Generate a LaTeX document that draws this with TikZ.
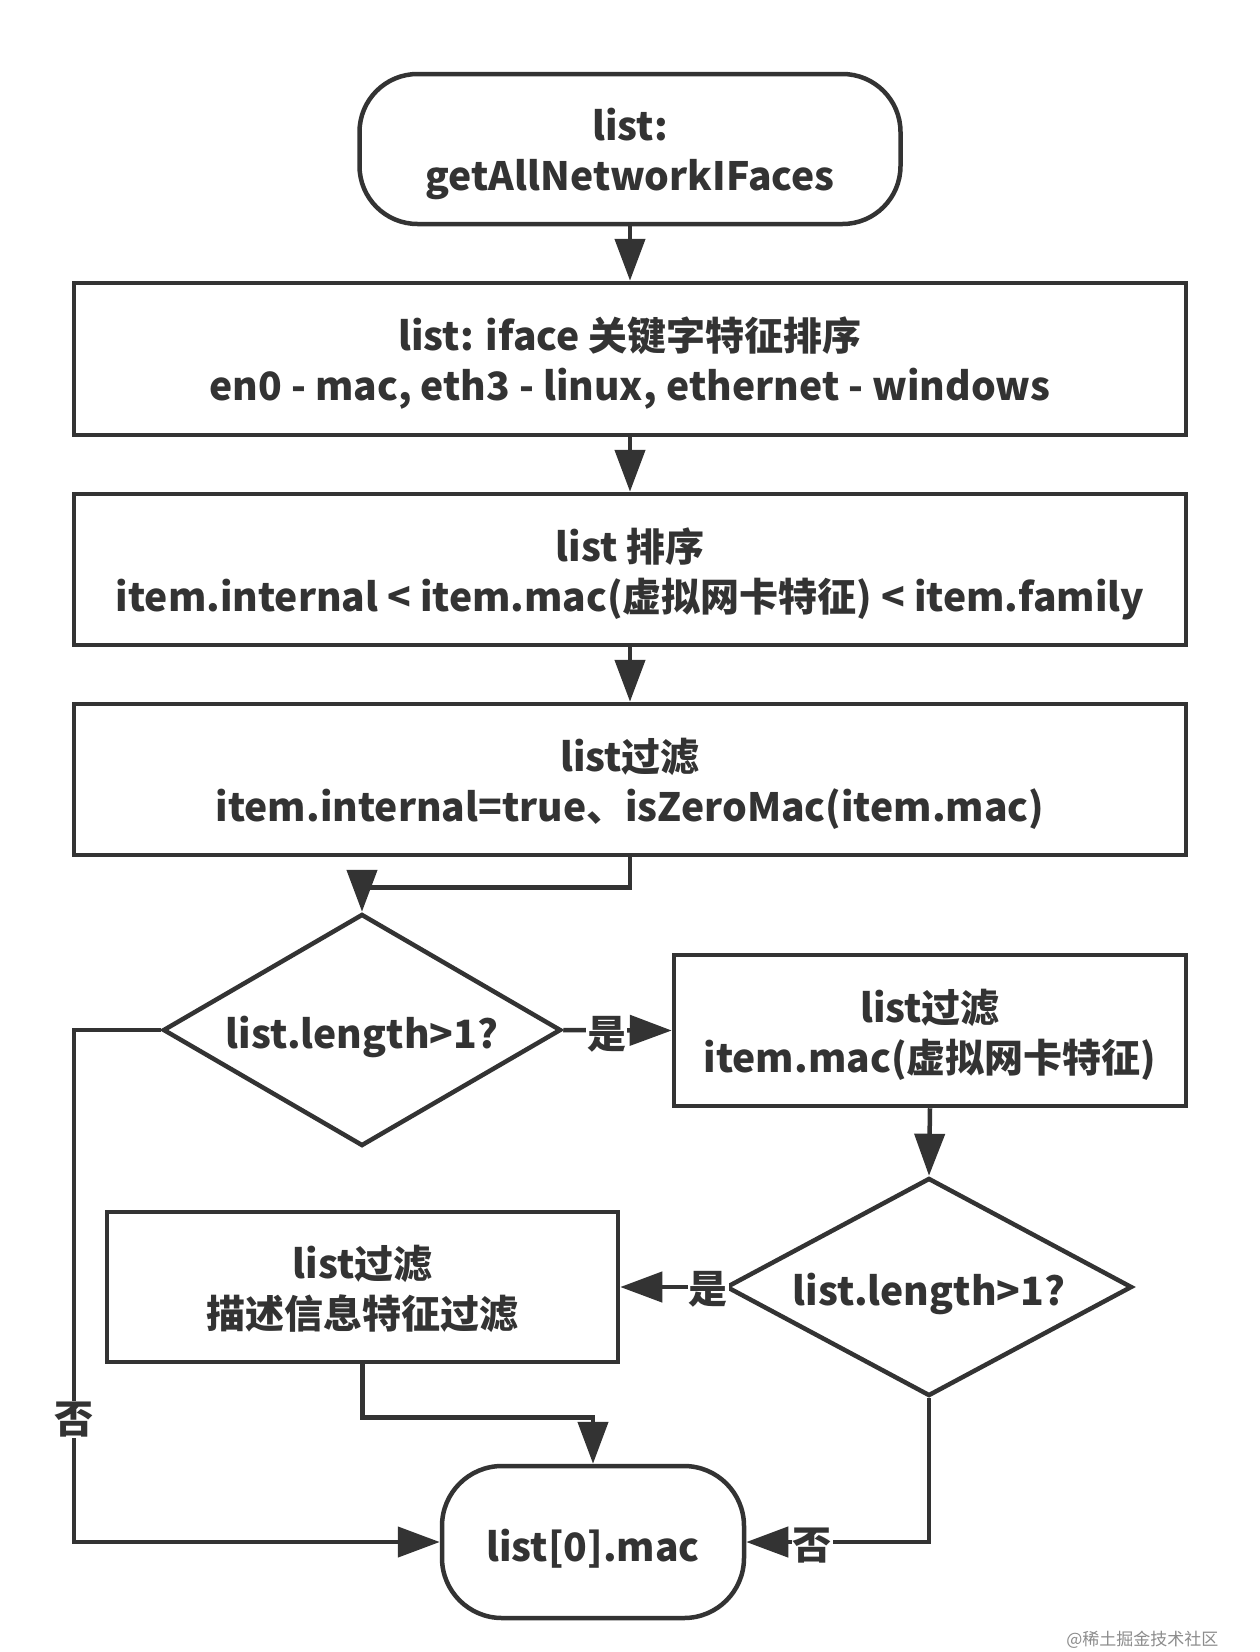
\documentclass[tikz,border=0pt]{standalone}
\usepackage{fontspec}
\setmainfont{Noto Sans CJK SC}
\usetikzlibrary{shapes.geometric,arrows.meta,calc}
\definecolor{ink}{HTML}{333333}
\tikzset{
  every node/.style={font=\fontsize{39pt}{50pt}\selectfont\bfseries, text=ink, align=center},
  txt/.style={execute at begin node={\rule{0pt}{46pt}}},
  twoline/.style={text depth=0pt},
  box/.style={twoline, draw=ink, line width=4.5pt, rectangle, inner sep=0pt},
  term/.style={draw=ink, line width=4.5pt, rectangle, rounded corners=58pt, inner sep=0pt},
  dia/.style={draw=ink, line width=4.5pt, diamond, inner sep=0pt},
  arr/.style={draw=ink, line width=4.5pt, -{Triangle[length=42pt,width=30pt]}},
  lbl/.style={fill=white, inner sep=1pt}
}
\begin{document}
\begin{tikzpicture}[x=1pt,y=1pt]
\useasboundingbox[fill=white] (0,0) rectangle (1260,-1652);
\node[term, twoline, minimum width=541pt, minimum height=150pt] (t1) at (630,-149) {list:\\getAllNetworkIFaces};
\node[box, minimum width=1112pt, minimum height=152pt] (b1) at (630,-359) {list: iface 关键字特征排序\\en0 - mac, eth3 - linux, ethernet - windows};
\node[box, minimum width=1112pt, minimum height=151pt] (b2) at (630,-569.5) {list 排序\\item.internal < item.mac(虚拟网卡特征) < item.family};
\node[box, minimum width=1112pt, minimum height=151pt] (b3) at (630,-779.5) {list过滤\\item.internal=true、isZeroMac(item.mac)};
\node[dia, minimum width=398pt, minimum height=232pt] (d1) at (362,-1030) {};
\node[txt] (d1t) at (d1) {list.length>1?};
\node[box, minimum width=512pt, minimum height=151pt] (b4) at (930,-1030.5) {list过滤\\item.mac(虚拟网卡特征)};
\node[dia, minimum width=406pt, minimum height=218pt] (d2) at (929,-1287) {};
\node[txt] (d2t) at (d2) {list.length>1?};
\node[box, minimum width=511pt, minimum height=150pt] (b5) at (362.5,-1287) {list过滤\\描述信息特征过滤};
\node[term, txt, minimum width=302pt, minimum height=152pt, rounded corners=60pt] (t2) at (593,-1542) {list[0].mac};
\coordinate (lc) at (74,-1030);
\coordinate (lb) at (74,-1542);
\draw[arr] (t1.south) -- (b1.north);
\draw[arr] (b1.south) -- (b2.north);
\draw[arr] (b2.south) -- (b3.north);
\draw[arr] (b3.south) -- ++(0,-30) -| (d1.north);
\draw[arr] (d1.east) -- node[lbl, pos=0.4, yshift=-4pt] (y1) {是} (b4.west);
\draw[arr] (b4.south) -- (d2.north);
\draw[arr] (d2.west) -- node[lbl, pos=0.15, yshift=-2pt] (y2) {是} (b5.east);
\draw[arr] (d1.west) -- (lc) -- node[lbl, pos=0.76] (n1) {否} (lb) -- (t2.west);
\draw[arr] (b5.south) -- ++(0,-53) -| (t2.north);
\draw[arr] (d2.south) |- node[lbl, pos=0.82, yshift=-4pt] (n2) {否} (t2.east);
\node[font=\fontsize{17pt}{20pt}\selectfont, text=black!45, anchor=east] (wm) at (1222,-1640) {@稀土掘金技术社区};
\end{tikzpicture}
\end{document}
